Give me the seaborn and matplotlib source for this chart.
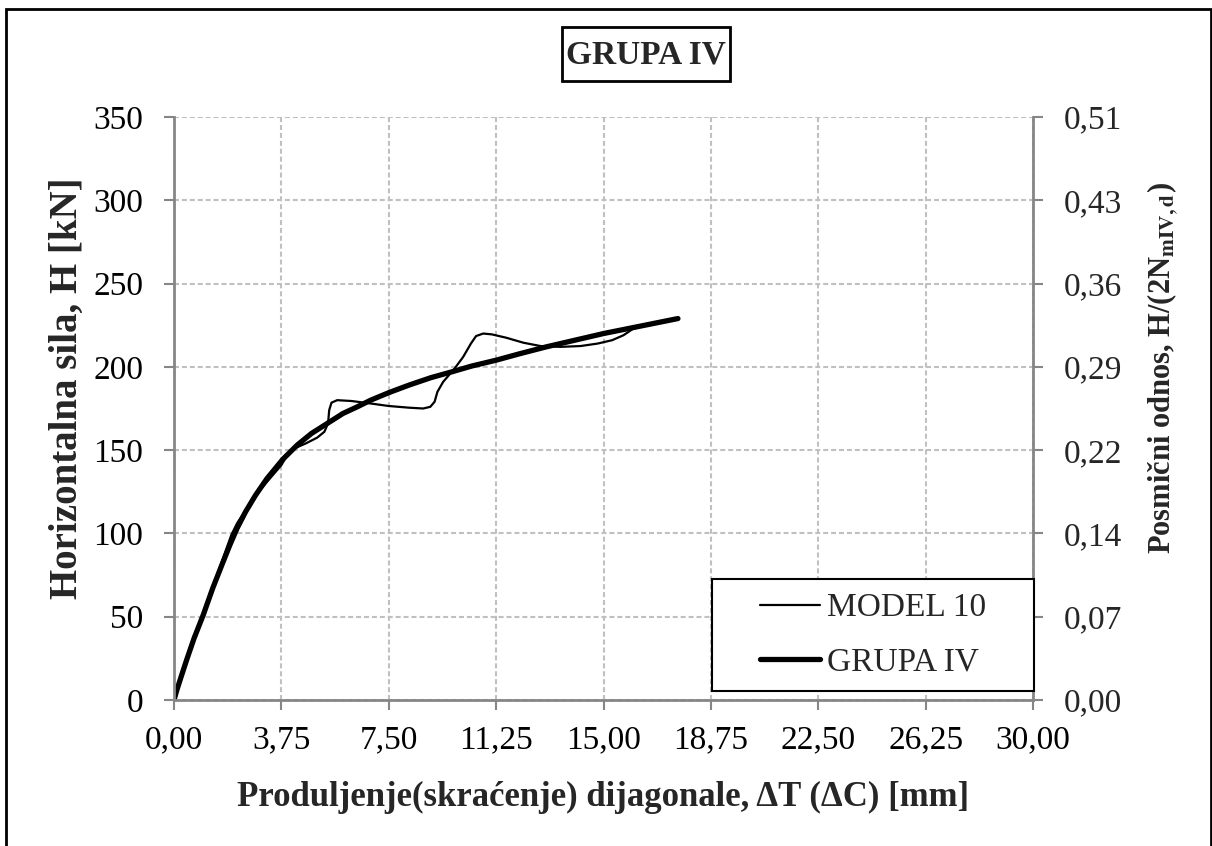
import numpy as np
import pandas as pd
import seaborn as sns
import matplotlib.pyplot as plt
from matplotlib.patches import Rectangle
from matplotlib.lines import Line2D

# GRUPA IV (smooth curve)
grupa_x = [0, 0.1, 0.25, 0.44, 0.7, 1.02, 1.35, 1.67, 1.95, 2.2, 2.5, 2.85, 3.25, 3.8,
           4.3, 4.8, 5.35, 5.9, 6.4, 6.87, 7.5, 8.2, 8.97, 9.7, 10.4, 11.25, 12.1,
           13.0, 14.0, 15.0, 16.3, 17.6]
grupa_y = [0, 6, 14, 24, 37, 51, 67, 81, 93, 103, 113, 123, 133, 144.5,
           153, 160, 166, 172, 176, 180, 184.5, 189, 193.5, 197, 200.5, 204, 208,
           212, 216, 220, 224.5, 229]

# MODEL 10 (thin, wavy)
model_x = [0, 0.44, 1.02, 1.67, 2.0, 2.2, 2.5, 2.85, 3.25, 3.55, 3.75, 3.95, 4.2,
           4.6, 5.0, 5.25, 5.38, 5.42, 5.5, 5.7, 6.2, 6.87, 7.5, 8.2, 8.7, 8.95,
           9.1, 9.2, 9.4, 9.8, 10.1, 10.37, 10.55, 10.8, 11.1, 11.6, 12.2, 12.8,
           13.5, 14.2, 14.8, 15.3, 15.7, 16.0, 16.4, 17.0, 17.6]
model_y = [0, 24, 51, 83, 99, 106, 114, 123, 131, 137, 141, 147, 151,
           154, 157.5, 161, 166, 174, 178.5, 180, 179.5, 178, 176.5, 175.5, 175, 176,
           179, 185, 191, 199, 206, 214, 218.5, 220, 219.5, 217.5, 214.5, 212.5,
           212, 212.5, 214, 216, 219, 222.5, 225, 227, 229]

x_ticks = [0, 3.75, 7.5, 11.25, 15.0, 18.75, 22.5, 26.25, 30.0]
x_labels = ["0,00", "3,75", "7,50", "11,25", "15,00", "18,75", "22,50", "26,25", "30,00"]
y_ticks = [0, 50, 100, 150, 200, 250, 300, 350]
y2_labels = ["0,00", "0,07", "0,14", "0,22", "0,29", "0,36", "0,43", "0,51"]

sns.set_style("white")
plt.rcParams['font.family'] = ['Liberation Serif', 'DejaVu Serif']
plt.rcParams['mathtext.fontset'] = 'stix'

W, H = 1212, 846
fig = plt.figure(figsize=(W / 100, H / 100), dpi=100)
ax = fig.add_axes([174 / W, 1 - 700 / H, (1033 - 174) / W, (700 - 117) / H])

df_m = pd.DataFrame({"x": model_x, "y": model_y})
df_g = pd.DataFrame({"x": grupa_x, "y": grupa_y})
sns.lineplot(data=df_m, x="x", y="y", ax=ax, color="black", lw=1.6, sort=False)
sns.lineplot(data=df_g, x="x", y="y", ax=ax, color="black", lw=3.8, sort=False,
             solid_capstyle="round", solid_joinstyle="round")

gray = "#868686"
ax.set_xlim(0, 30)
ax.set_ylim(0, 350)
ax.set_xticks(x_ticks)
ax.set_xticklabels(x_labels)
ax.set_yticks(y_ticks)
ax.set_xlabel("")
ax.set_ylabel("")
ax.grid(True, color="#c0c0c0", linestyle=(0, (2.4, 1.4)), lw=1.5)
for s in ["left", "bottom"]:
    ax.spines[s].set_color(gray)
    ax.spines[s].set_linewidth(2)
ax.spines["top"].set_visible(False)
ax.spines["right"].set_visible(False)
ax.tick_params(axis="both", direction="out", length=7, width=1.5, color=gray,
               labelsize=24, labelcolor="black")
ax.tick_params(axis="x", pad=11, bottom=True)
ax.tick_params(axis="y", pad=15, left=True)

ax2 = ax.twinx()
ax2.set_ylim(0, 350)
ax2.set_yticks(y_ticks)
ax2.set_yticklabels(y2_labels)
for s in ["left", "bottom", "top"]:
    ax2.spines[s].set_visible(False)
ax2.spines["right"].set_color(gray)
ax2.spines["right"].set_linewidth(2)
ax2.tick_params(axis="y", direction="out", length=7, width=1.5, color=gray,
                labelsize=24, pad=15, right=True)
ax2.grid(False)

# legend box
x0 = (712 - 174) / (1033 - 174)
x1 = (1034 - 174) / (1033 - 174)
y0 = (700 - 691) / (700 - 117)
y1 = (700 - 579) / (700 - 117)
ax2.add_patch(Rectangle((x0, y0), x1 - x0, y1 - y0, transform=ax2.transAxes,
                        facecolor="white", edgecolor="black", lw=1.5, zorder=5,
                        clip_on=False))
handles = [Line2D([], [], color="black", lw=1.6), Line2D([], [], color="black", lw=3.8)]
leg = ax2.legend(handles, ["MODEL 10", "GRUPA IV"], loc="center",
                 bbox_to_anchor=((x0 + x1) / 2, (y0 + y1) / 2),
                 frameon=False, fontsize=24, handlelength=1.8, handletextpad=0.2,
                 labelspacing=0.7)
leg.set_zorder(6)

# labels
fig.text(603 / W, 1 - 806 / H, "Produljenje(skraćenje) dijagonale, ΔT (ΔC) [mm]",
         ha="center", va="baseline", fontsize=25, fontweight="bold")
fig.text(67 / W, 1 - 388 / H, "Horizontalna sila, H [kN]", rotation=90,
         ha="center", va="center", fontsize=28, fontweight="bold")
fig.text(1163 / W, 1 - 368 / H, r"Posmični odnos, H/(2N$_{\mathbf{mIV,d}}$)",
         rotation=90, ha="center", va="center", fontsize=22, fontweight="bold")

# title in a box
fig.patches.append(Rectangle((562 / W, 1 - 81 / H), (730 - 562) / W, (81 - 27) / H,
                             transform=fig.transFigure, facecolor="white",
                             edgecolor="black", lw=2))
fig.text(646 / W, 1 - 55 / H, "GRUPA IV", ha="center", va="center", fontsize=24,
         fontweight="bold")

# outer border
fig.patches.append(Rectangle((6 / W, -0.02), (1211 - 6) / W, 1.02 - 9 / H,
                             transform=fig.transFigure, fill=False,
                             edgecolor="black", lw=2))

fig.savefig("out.png", dpi=100)
